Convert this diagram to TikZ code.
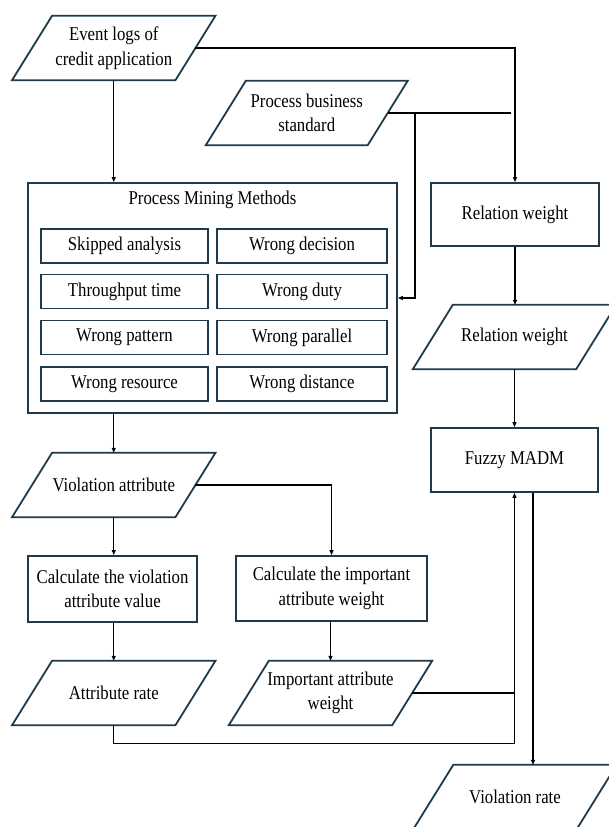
\documentclass[tikz,border=0pt]{standalone}
\usepackage{fontspec}
\setmainfont{Liberation Serif}[FakeStretch=0.86]
\usetikzlibrary{arrows.meta}
\definecolor{bord}{HTML}{1F3A4B}
\newcommand\fsz{\fontsize{19.5}{24.5}\selectfont}
\newcommand\drawpara[1]{\draw[parab] ([xshift=-20pt]#1.south west) -- ([xshift=20pt]#1.north west) -- ([xshift=20pt]#1.north east) -- ([xshift=-20pt]#1.south east) -- cycle;}
\tikzset{
 box/.style={draw=bord, line width=1.8pt, rectangle, inner sep=0pt, align=center, font=\fsz},
 pnode/.style={rectangle, inner sep=0pt, align=center, minimum width=163pt, minimum height=64pt, font=\fsz},
 parab/.style={draw=bord, line width=1.8pt, line join=miter},
 conn/.style={line width=1.2pt, black},
 arr/.style={conn, -{Triangle[length=5pt,width=4pt]}},
 inbox/.style={box, minimum height=34pt},
}
\begin{document}
\begin{tikzpicture}[x=1pt,y=-1pt]
\useasboundingbox (0,0) rectangle (608,827);
% parallelogram nodes
\node[pnode] (ev) at (113.75,48) {Event logs of\\credit application};
\node[pnode, minimum width=161.5pt] (pbs) at (306.75,113) {Process business\\standard};
\node[pnode] (rw2) at (514.5,337) {Relation weight};
\node[pnode] (va) at (113.75,485) {Violation attribute};
\node[pnode] (ar) at (113.75,693) {Attribute rate};
\node[pnode] (ia) at (330.5,693) {Important attribute\\weight};
\node[pnode] (vr) at (515,797) {Violation rate};
\drawpara{ev}
\drawpara{pbs}
\drawpara{rw2}
\drawpara{va}
\drawpara{ar}
\drawpara{ia}
\drawpara{vr}
% rectangles
\node[box, minimum width=369pt, minimum height=230pt] (pm) at (212.5,298) {};
\node[font=\fsz, inner sep=0pt] (pmt) at (212.5,200) {Process Mining Methods};
\node[inbox, minimum width=167pt] (b1) at (124.5,246) {Skipped analysis};
\node[inbox, minimum width=170pt] (b2) at (302,246) {Wrong decision};
\node[inbox, minimum width=167pt] (b3) at (124.5,291.5) {Throughput time};
\node[inbox, minimum width=170pt] (b4) at (302,291.5) {Wrong duty};
\node[inbox, minimum width=167pt] (b5) at (124.5,337.5) {Wrong pattern};
\node[inbox, minimum width=170pt] (b6) at (302,337.5) {Wrong parallel};
\node[inbox, minimum width=167pt] (b7) at (124.5,384) {Wrong resource};
\node[inbox, minimum width=170pt] (b8) at (302,384) {Wrong distance};
\node[box, minimum width=168pt, minimum height=63pt] (rw1) at (515,214.5) {Relation weight};
\node[box, minimum width=167pt, minimum height=64pt] (fz) at (514.5,460) {Fuzzy MADM};
\node[box, minimum width=169pt, minimum height=66pt] (c1) at (112.5,589) {Calculate the violation\\attribute value};
\node[box, minimum width=191pt, minimum height=65pt] (c2) at (331.5,588.5) {Calculate the important\\attribute weight};
% junction coordinates
\coordinate (pbsend) at (511,113);
\coordinate (pbj) at (415,113);
% connectors
\draw[arr] (ev.south) -- (ev.south |- pm.north);
\draw[arr] (ev.east) -| (rw1.north);
\draw[conn] (pbs.east) -- (pbsend);
\draw[arr] (pbj) |- (pm.east);
\draw[arr] (rw1.south) -- (rw1.south |- rw2.north);
\draw[arr] (rw2.south) -- (rw2.south |- fz.north);
\draw[arr] (pm.south -| va.south) -- (va.north);
\draw[arr] (va.south) -- (va.south |- c1.north);
\draw[arr] (va.east) -| (c2.north);
\draw[arr] (c1.south -| ar.north) -- (ar.north);
\draw[arr] (c2.south -| ia.north) -- (ia.north);
\draw[arr] (ar.south) -- ++(0,18) -| (fz.south);
\draw[conn] (ia.east) -- (ia.east -| fz.south);
\draw[arr] ([xshift=18.5pt]fz.south) -- ([xshift=18.5pt]fz.south |- vr.north);
\end{tikzpicture}
\end{document}
